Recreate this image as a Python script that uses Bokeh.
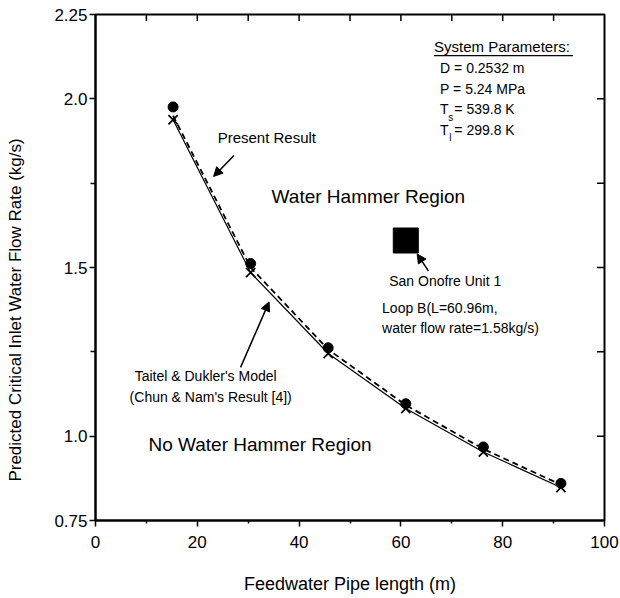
import math
from bokeh.plotting import figure
from bokeh.models import FixedTicker, Label, Arrow, NormalHead, Range1d
from bokeh.embed import file_html
from bokeh.resources import INLINE

# ---- data ----
pipe_length = [15.24, 30.48, 45.72, 60.96, 76.20, 91.44]
present_points = [1.976, 1.512, 1.262, 1.096, 0.968, 0.860]
present_curve = [1.950, 1.500, 1.257, 1.092, 0.962, 0.856]
taitel_dukler = [1.938, 1.485, 1.245, 1.082, 0.953, 0.848]
san_onofre_length = [60.96]
san_onofre_flow = [1.58]

x_ticks = [0, 20, 40, 60, 80, 100]
x_minor_ticks = [10, 30, 50, 70, 90]
y_ticks = [0.75, 1.0, 1.5, 2.0, 2.25]
y_tick_labels = ["0.75", "1.0", "1.5", "2.0", "2.25"]
y_minor_ticks = [1.25, 1.75]
frame_x_ticks = [10, 20, 30, 40, 50, 60, 70, 80, 90]
frame_y_ticks = [1.0, 1.25, 1.5, 1.75, 2.0]

FONT = "Liberation Sans"
X0, X1, Y0, Y1 = 0, 100, 0.75, 2.25

p = figure(width=620, height=598, x_range=Range1d(X0, X1), y_range=Range1d(Y0, Y1),
           output_backend="svg", toolbar_location=None,
           min_border_left=95, min_border_right=16, min_border_top=14, min_border_bottom=78,
           x_axis_label="Feedwater Pipe length (m)",
           y_axis_label="Predicted Critical Inlet Water Flow Rate (kg/s)" + "\u00a0" * 18)
p.grid.visible = False
p.outline_line_color = "black"
p.outline_line_width = 2
p.background_fill_color = "white"
p.border_fill_color = "white"

xa = p.xaxis[0]
xa.ticker = FixedTicker(ticks=x_ticks, minor_ticks=x_minor_ticks)
xa.major_tick_in = 0
xa.major_tick_out = 6
xa.minor_tick_in = 0
xa.minor_tick_out = 3
xa.axis_line_width = 2
xa.major_tick_line_width = 1.5
xa.minor_tick_line_width = 1.5
xa.major_label_text_font = FONT
xa.major_label_text_font_size = "17px"
xa.major_label_text_color = "black"
xa.major_label_standoff = 9
xa.axis_label_text_font = FONT
xa.axis_label_text_font_style = "normal"
xa.axis_label_text_font_size = "18px"
xa.axis_label_text_color = "black"
xa.axis_label_standoff = 23

ya = p.yaxis[0]
ya.ticker = FixedTicker(ticks=y_ticks, minor_ticks=y_minor_ticks)
ya.major_label_overrides = {t: s for t, s in zip(y_ticks, y_tick_labels)}
ya.major_tick_in = 0
ya.major_tick_out = 6
ya.minor_tick_in = 0
ya.minor_tick_out = 5
ya.axis_line_width = 2
ya.major_tick_line_width = 1.5
ya.minor_tick_line_width = 1.5
ya.major_label_text_font = FONT
ya.major_label_text_font_size = "17px"
ya.major_label_text_color = "black"
ya.major_label_standoff = 2
ya.axis_label_text_font = FONT
ya.axis_label_text_font_style = "normal"
ya.axis_label_text_font_size = "17px"
ya.axis_label_text_color = "black"
ya.axis_label_standoff = 26

# inward frame ticks on top and right edges (half of each dash is clipped by the frame)
p.scatter(frame_x_ticks, [Y1] * len(frame_x_ticks), marker="dash", angle=math.pi / 2,
          size=13, line_color="black", line_width=1.5)
p.scatter([X1] * len(frame_y_ticks), frame_y_ticks, marker="dash",
          size=15, line_color="black", line_width=1.5)

# ---- data marks ----
p.line(pipe_length, taitel_dukler, line_color="black", line_width=1.2)
p.line(pipe_length, present_curve, line_color="black", line_width=1.8, line_dash="6 4")
p.scatter(pipe_length, present_points, marker="circle", size=10,
          fill_color="black", line_color="black")
p.scatter(pipe_length, taitel_dukler, marker="x", size=13,
          line_color="black", line_width=1.7)
p.scatter(san_onofre_length, san_onofre_flow, marker="square", size=25,
          fill_color="black", line_color="black")

# ---- annotations ----
def lab(x, y, text, size="14px", align="left"):
    p.add_layout(Label(x=x, y=y, text=text, text_font=FONT, text_font_size=size,
                       text_color="black", text_align=align, text_baseline="middle"))

lab(24.0, 1.885, "Present Result", "15px")
lab(34.6, 1.711, "Water Hammer Region", "19px")
lab(10.4, 0.976, "No Water Hammer Region", "19px")
lab(7.7, 1.177, "Taitel & Dukler's Model", "14px")
lab(6.7, 1.115, "(Chun & Nam's Result [4])", "14px")
lab(57.7, 1.460, "San Onofre Unit 1", "14px")
lab(56.3, 1.381, "Loop B(L=60.96m,", "14px")
lab(56.3, 1.322, "water flow rate=1.58kg/s)", "14px")

lab(66.5, 2.156, "System Parameters:", "15px")
p.segment(x0=[66.5], y0=[2.128], x1=[93.8], y1=[2.128], line_color="black", line_width=1.2)
lab(67.7, 2.091, "D =  0.2532 m")
lab(67.7, 2.029, "P =  5.24 MPa")
lab(67.7, 1.970, "T")
lab(69.3, 1.946, "s", "10px")
lab(70.5, 1.970, "=  539.8 K")
lab(67.7, 1.909, "T")
lab(69.5, 1.885, "l", "10px")
lab(70.5, 1.909, "=  299.8 K")

def arrow(x0, y0, x1, y1):
    p.add_layout(Arrow(end=NormalHead(size=9, fill_color="black", line_color="black"),
                       x_start=x0, y_start=y0, x_end=x1, y_end=y1,
                       line_color="black", line_width=1.5))

arrow(27.2, 1.832, 23.2, 1.770)
arrow(28.5, 1.204, 34.1, 1.398)
arrow(65.4, 1.490, 63.2, 1.540)

open("out.html", "w").write(file_html(p, INLINE))
